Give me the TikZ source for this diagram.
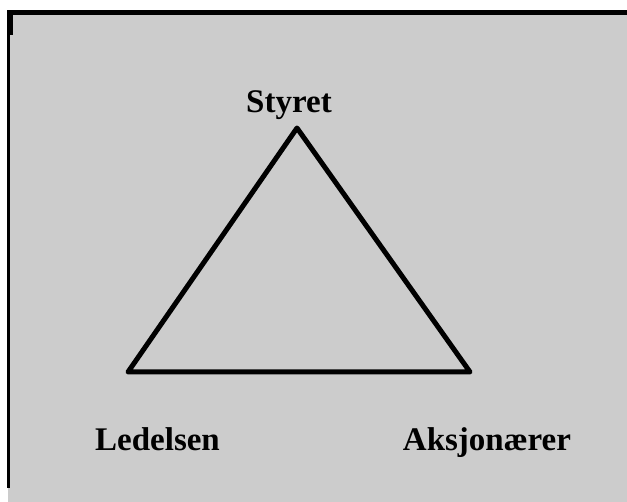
\documentclass[tikz,border=0pt]{standalone}
\usepackage{fontspec}
\setmainfont{Liberation Serif}
\usepackage{tikz}
\definecolor{panelgray}{RGB}{204,204,204}
\tikzset{
  corner/.style={font=\fontsize{33}{40}\selectfont\bfseries, anchor=base, inner sep=0pt},
  edge/.style={line width=5pt, line join=round, line cap=round}
}

\begin{document}
\begin{tikzpicture}[x=1pt, y=-1pt]
    \useasboundingbox (0,0) rectangle (627,502);
    \fill[panelgray] (8,10) rectangle (627,502);
    \fill[black] (7,10) rectangle (627,15);
    \fill[black] (7,10) rectangle (13,35);
    \fill[black] (7,35) rectangle (9.5,488);
    \coordinate (top) at (297,128);
    \coordinate (lft) at (128,372);
    \coordinate (rgt) at (470,372);
    \node[corner] (styret) at (289,113) {Styret};
    \node[corner] (ledelsen) at (157.5,451) {Ledelsen};
    \node[corner] (aksjon) at (487,451) {Aksjonærer};
    \draw[edge] (top) -- (rgt) -- (lft) -- cycle;
  \end{tikzpicture}
\end{document}
